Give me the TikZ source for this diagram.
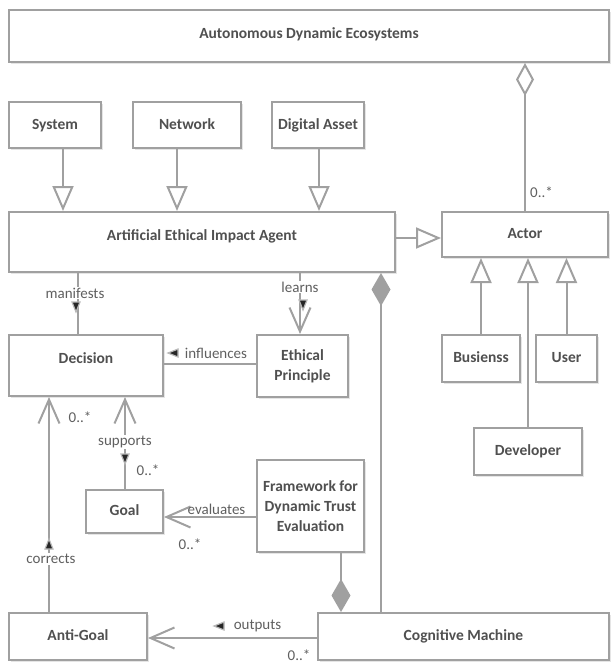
\documentclass[tikz,border=0pt]{standalone}
\usepackage{fontspec}
\setmainfont{Carlito}
\usetikzlibrary{arrows.meta,calc,shadows}
\definecolor{lc}{RGB}{160,160,160}
\definecolor{tc}{RGB}{80,80,80}
\definecolor{lblc}{RGB}{95,95,95}
\begin{document}
\begin{tikzpicture}[x=1pt,y=-1pt,
  boxbase/.style={draw=lc, line width=2pt, fill=white, text=tc,
    font=\fontsize{15.5}{20}\selectfont\bfseries, align=center, inner sep=0pt,
    general shadow={fill=black!10, shadow xshift=2pt, shadow yshift=-2pt}},
  box/.style={boxbase, text height=11pt, text depth=3pt},
  raised/.style={box, text depth=15pt},
  mbox/.style={boxbase},
  conn/.style={draw=lc, line width=2pt},
  gen/.style={conn, -{Triangle[open, length=25pt, width=21pt, fill=white]}},
  nav/.style={conn, -{Straight Barb[length=24pt, width=21pt]}},
  agg/.style={conn, -{Diamond[open, length=33pt, width=18pt, fill=white]}},
  comp/.style={conn, -{Diamond[length=33pt, width=19pt, fill=lc]}},
  lbl/.style={text=lblc, font=\fontsize{15}{17}\selectfont, inner sep=1pt},
  lblw/.style={lbl, fill=white},
  mk/.pic={\fill[black!85, draw=gray!55, line width=1.2pt] (-4,-5) -- (4,-5) -- (0,5) -- cycle;}
]
\useasboundingbox (0,0) rectangle (611,664);

% boxes
\node[box, minimum width=600pt, minimum height=52pt, text depth=7pt] (ADE) at (309,36) {Autonomous Dynamic Ecosystems};
\node[box, minimum width=92pt, minimum height=46pt] (System) at (55,125) {System};
\node[box, minimum width=108pt, minimum height=46pt] (Network) at (187,125) {Network};
\node[box, minimum width=92pt, minimum height=46pt] (DA) at (318,125) {Digital Asset};
\node[raised, minimum width=386pt, minimum height=60pt] (AEIA) at (202,242) {Artificial Ethical Impact Agent};
\node[box, minimum width=166pt, minimum height=45pt] (Actor) at (525,234.5) {Actor};
\node[raised, minimum width=154pt, minimum height=61pt] (Decision) at (86,365.5) {Decision};
\node[mbox, minimum width=91pt, minimum height=62pt] (EP) at (302.5,366) {Ethical\\Principle};
\node[box, minimum width=78pt, minimum height=47pt] (Bus) at (481,358.5) {Busienss};
\node[box, minimum width=61pt, minimum height=47pt] (User) at (566.5,358.5) {User};
\node[box, minimum width=108pt, minimum height=47pt] (Dev) at (528,451.5) {Developer};
\node[box, minimum width=77pt, minimum height=43pt] (Goal) at (124.5,511.5) {Goal};
\node[mbox, minimum width=107pt, minimum height=92pt] (FDTE) at (310.5,506) {Framework for\\Dynamic Trust\\Evaluation};
\node[box, minimum width=138pt, minimum height=47pt] (AG) at (78,636.5) {Anti-Goal};
\node[box, minimum width=291pt, minimum height=47pt] (CM) at (463.5,636.5) {Cognitive Machine};

% anchor points
\coordinate (s1) at ([xshift=8pt]System.south);
\coordinate (n1) at ([xshift=-10pt]Network.south);
\coordinate (d1) at ([xshift=1pt]DA.south);
\coordinate (a1) at ([yshift=-3.5pt]Actor.west);
\coordinate (c1) at ([xshift=-82.5pt]CM.north);
\coordinate (f1) at ([xshift=30.5pt]FDTE.south);
\coordinate (m1) at ([xshift=-8pt]Decision.north);
\coordinate (e1) at ([xshift=-2.5pt]EP.north);
\coordinate (i1) at ([yshift=2pt]EP.west);
\coordinate (g1) at ([xshift=-29pt]AG.north);
\coordinate (g2) at ([xshift=0.5pt]Goal.north);
\coordinate (v1) at ([yshift=-11pt]FDTE.west);
\coordinate (o1) at ([yshift=-1.5pt]CM.west);

% generalizations
\draw[gen] (s1) -- (s1 |- AEIA.north);
\draw[gen] (n1) -- (n1 |- AEIA.north);
\draw[gen] (d1) -- (d1 |- AEIA.north);
\draw[gen] (AEIA.east |- a1) -- (a1);
\draw[gen] (Bus.north) -- (Bus.north |- Actor.south);
\draw[gen] (Dev.north) -- (Dev.north |- Actor.south);
\draw[gen] (User.north) -- (User.north |- Actor.south);

% aggregation / composition
\draw[agg] (Actor.north) -- (Actor.north |- ADE.south);
\draw[comp] (c1) -- (c1 |- AEIA.south);
\draw[comp] (f1) -- (f1 |- CM.north);

% associations
\draw[conn] (m1 |- AEIA.south) -- (m1);
\draw[nav] (e1 |- AEIA.south) -- (e1);
\draw[conn] (i1) -- (i1 -| Decision.east);
\draw[nav] (g1) -- (g1 |- Decision.south);
\draw[nav] (g2) -- (g2 |- Decision.south);
\draw[nav] (v1) -- (v1 -| Goal.east);
\draw[nav] (o1) -- (o1 -| AG.east);

% labels
\node[lbl, anchor=west] (lm0) at (529,192) {0..*};
\node[lblw] (lman) at (75,293) {manifests};
\node[lblw] (llea) at (300,287) {learns};
\node[lbl] (linf) at (216,353) {influences};
\node[lbl] (lc0) at (80,417) {0..*};
\node[lblw] (lsup) at (125,442) {supports};
\node[lbl] (ls0) at (148,470) {0..*};
\node[lbl] (leva) at (216.5,509) {evaluates};
\node[lbl] (le0) at (190,544) {0..*};
\node[lblw] (lcor) at (51,559) {corrects};
\node[lbl] (lout) at (257.5,626) {outputs};
\node[lbl] (lo0) at (299,655) {0..*};

% direction markers
\pic at (76,307) {mk};
\pic at (303,305) {mk};
\pic[rotate=-90] at (173,353) {mk};
\pic at (125,459) {mk};
\pic[rotate=180] at (49,544) {mk};
\pic[rotate=-90] at (219,626) {mk};
\end{tikzpicture}
\end{document}
